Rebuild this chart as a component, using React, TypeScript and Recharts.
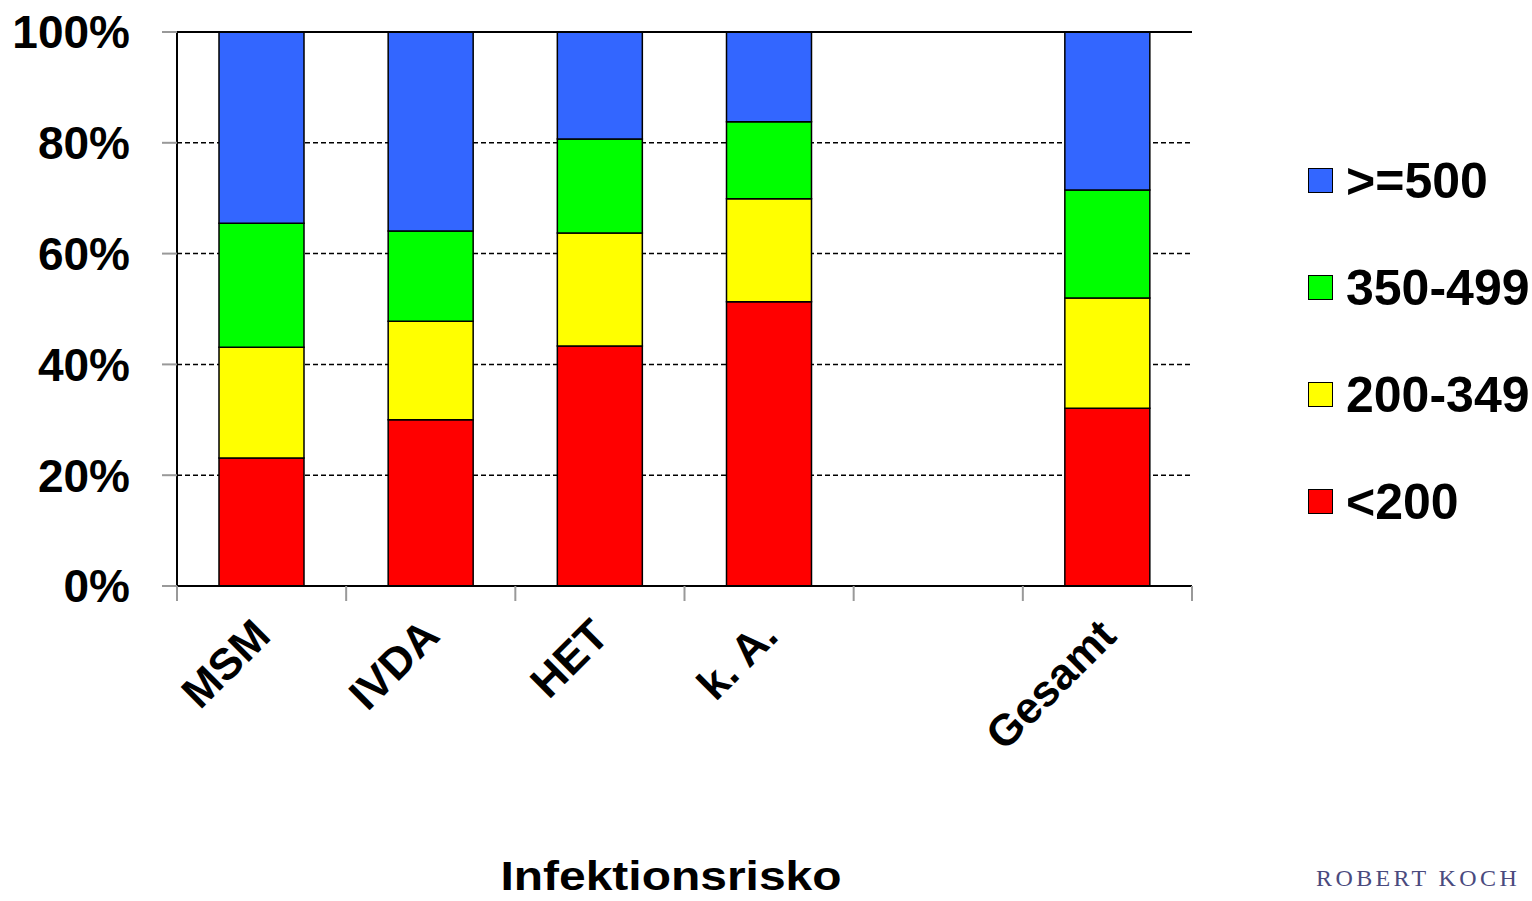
import React from "react";
import {
  BarChart,
  Bar,
  XAxis,
  YAxis,
  CartesianGrid,
  ReferenceLine,
} from "recharts";

const categories = ["MSM", "IVDA", "HET", "k. A.", "", "Gesamt"];
const below200 = [23.1, 30.0, 43.3, 51.3, null, 32.1];
const from200to349 = [20.0, 17.8, 20.4, 18.6, null, 19.9];
const from350to499 = [22.4, 16.3, 17.0, 13.9, null, 19.5];
const from500 = [34.5, 35.9, 19.3, 16.2, null, 28.5];
const yTicks = [0, 20, 40, 60, 80, 100];

const series = [
  { key: "lt200", name: "<200", color: "#ff0000", values: below200 },
  { key: "r200", name: "200-349", color: "#ffff00", values: from200to349 },
  { key: "r350", name: "350-499", color: "#00ff00", values: from350to499 },
  { key: "ge500", name: ">=500", color: "#3366ff", values: from500 },
];

const data = categories.map((name, i) => {
  const row: Record<string, string | number | null> = { name };
  series.forEach((s) => {
    row[s.key] = s.values[i];
  });
  return row;
});

const FONT = '"Liberation Sans", Arial, sans-serif';

// label rotated -45deg plus the grey tick marks at the band edges
function CategoryTick({ x, y, payload, index, visibleTicksCount }: any) {
  const half = payload && payload.offset ? payload.offset : 84.6;
  const ax = x + 11;
  const ay = y + 52;
  const last = index === visibleTicksCount - 1;
  return (
    <g>
      <line x1={x - half} y1={y} x2={x - half} y2={y + 15} stroke="#999" strokeWidth={2} />
      {last && (
        <line x1={x + half} y1={y} x2={x + half} y2={y + 15} stroke="#999" strokeWidth={2} />
      )}
      <text
        x={ax}
        y={ay}
        textAnchor="end"
        transform={`rotate(-45 ${ax} ${ay})`}
        fontFamily={FONT}
        fontWeight="bold"
        fontSize={44}
        fill="#000"
      >
        {payload.value}
      </text>
    </g>
  );
}

function LegendBox() {
  const items = [...series].reverse();
  return (
    <div
      style={{
        position: "absolute",
        left: 1308,
        top: 127,
        fontFamily: FONT,
        fontWeight: "bold",
        fontSize: 50,
      }}
    >
      {items.map((s) => (
        <div
          key={s.key}
          style={{ display: "flex", alignItems: "center", height: 107 }}
        >
          <span
            style={{
              display: "inline-block",
              flex: "none",
              width: 23,
              height: 23,
              background: s.color,
              border: "1.5px solid #000",
              marginRight: 13,
            }}
          />
          <span>{s.name}</span>
        </div>
      ))}
    </div>
  );
}

export default function App() {
  return (
    <div
      style={{
        position: "absolute",
        left: 0,
        top: 0,
        width: 1532,
        height: 901,
        overflow: "hidden",
        background: "#fff",
      }}
    >
      <BarChart
        width={1532}
        height={901}
        data={data}
        margin={{ top: 32, right: 340, left: 0, bottom: 215 }}
        barSize={85}
      >
        <CartesianGrid
          vertical={false}
          stroke="#000"
          strokeWidth={1.5}
          strokeDasharray="5 3"
          yAxisId="left"
        />
        <XAxis
          dataKey="name"
          height={100}
          interval={0}
          tickLine={false}
          axisLine={{ stroke: "#000", strokeWidth: 2 }}
          tickSize={0}
          tickMargin={0}
          tick={<CategoryTick />}
        />
        <YAxis
          yAxisId="left"
          width={177}
          domain={[0, 100]}
          ticks={yTicks}
          interval={0}
          tickFormatter={(v) => `${v}%`}
          tickSize={15}
          tickMargin={32}
          tickLine={{ stroke: "#999", strokeWidth: 2 }}
          axisLine={{ stroke: "#000", strokeWidth: 2 }}
          tick={{ fill: "#000", fontSize: 46, fontWeight: "bold", fontFamily: FONT }}
        />
        <YAxis
          yAxisId="right"
          orientation="right"
          width={0}
          domain={[0, 100]}
          tick={false}
          tickLine={false}
          axisLine={{ stroke: "#000", strokeWidth: 2 }}
        />
        <ReferenceLine y={100} yAxisId="left" stroke="#000" strokeWidth={2} />
        {series.map((s) => (
          <Bar
            key={s.key}
            dataKey={s.key}
            name={s.name}
            stackId="a"
            yAxisId="left"
            fill={s.color}
            stroke="#000"
            strokeWidth={1.5}
            isAnimationActive={false}
          />
        ))}
      </BarChart>
      <LegendBox />
      <div
        style={{
          position: "absolute",
          left: 0,
          width: 1342,
          top: 853,
          textAlign: "center",
          fontFamily: FONT,
          fontWeight: "bold",
          fontSize: 41,
          lineHeight: "46px",
          transform: "scaleX(1.17)",
          transformOrigin: "671px 0",
        }}
      >
        Infektionsrisko
      </div>
      <div
        style={{
          position: "absolute",
          left: 1316,
          top: 864,
          whiteSpace: "nowrap",
          fontFamily: '"Liberation Serif", "DejaVu Serif", serif',
          fontSize: 24,
          lineHeight: "28px",
          letterSpacing: 3.4,
          color: "#4a4a7e",
        }}
      >
        ROBERT KOCH
      </div>
    </div>
  );
}
